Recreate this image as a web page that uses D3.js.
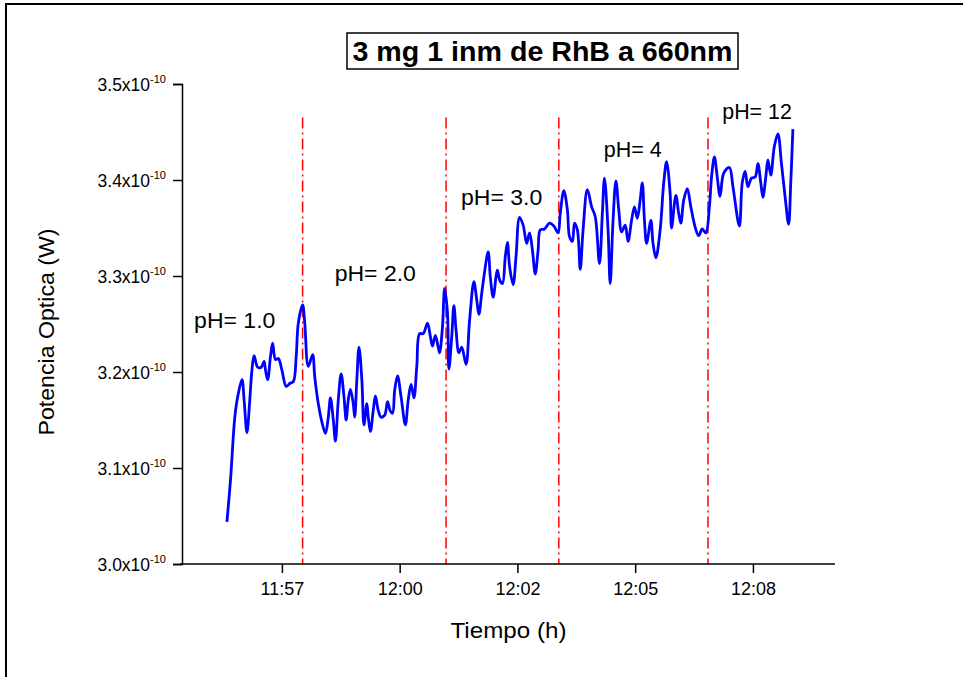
<!DOCTYPE html>
<html>
<head>
<meta charset="utf-8">
<script src="https://cdn.jsdelivr.net/npm/d3@7"></script>
<style>
  body { margin: 0; background: #fff; }
  svg { display: block; font-family: Arial, "Liberation Sans", sans-serif; }
</style>
</head>
<body>
<svg id="chart" width="963" height="677"></svg>
<script>
// seconds after 11:55:00
const seconds = [63,68,74,78,84,87,91,95,98,101,106,111,115,117,120,124,127,131,135,140,
  146,151,156,160,163,169,172,177,183,186,191,196,201,205,208,212,215,219,223,227,
  230,233,236,240,242,245,248,252,255,259,261,264,268,271,275,279,284,288,292,295,
  298,302,307,313,317,321,325,329,333,338,344,348,351,355,359,361,365,368,372,374,
  378,381,384,388,392,398,403,409,413,416,420,423,429,432,436,440,442,445,449,453,
  456,459,464,468,473,478,483,487,491,495,499,502,508,515,521,527,530,535,540,543,
  547,550,554,558,562,568,574,579,585,589,592,597,600,604,608,612,616,621,625,630,
  634,638,642,645,648,651,657,660,664,670,675,679,684,686,692,696,699,703,708,713,
  719,724,729,734,739,742,746,750,754,759,767,772,781,785,789,793,798,803,807,811,
  814,818,821,825,830,835,840,845,850,853,856];

// potencia optica, x1e-10 W
const power = [3.044,3.088,3.153,3.174,3.192,3.171,3.137,3.171,3.202,3.217,3.205,3.205,3.211,3.202,3.192,3.216,3.230,3.213,3.214,3.202,
  3.185,3.188,3.190,3.216,3.251,3.270,3.251,3.206,3.218,3.195,3.167,3.148,3.136,3.153,3.173,3.150,3.128,3.171,3.198,3.174,
  3.150,3.171,3.182,3.167,3.153,3.192,3.226,3.192,3.145,3.167,3.153,3.138,3.160,3.175,3.160,3.153,3.155,3.169,3.159,3.157,
  3.181,3.196,3.174,3.145,3.171,3.187,3.173,3.206,3.240,3.240,3.251,3.237,3.227,3.238,3.226,3.220,3.247,3.287,3.261,3.203,
  3.237,3.269,3.244,3.220,3.226,3.208,3.254,3.294,3.275,3.260,3.282,3.299,3.325,3.299,3.278,3.299,3.306,3.296,3.292,3.320,
  3.335,3.310,3.291,3.320,3.361,3.353,3.334,3.345,3.327,3.302,3.327,3.348,3.349,3.355,3.352,3.345,3.365,3.389,3.369,3.341,
  3.336,3.355,3.348,3.307,3.348,3.390,3.372,3.362,3.313,3.365,3.402,3.348,3.292,3.358,3.399,3.369,3.346,3.353,3.336,3.358,
  3.372,3.360,3.379,3.397,3.358,3.334,3.358,3.334,3.319,3.348,3.397,3.419,3.386,3.350,3.384,3.365,3.355,3.379,3.391,3.372,
  3.351,3.342,3.349,3.345,3.372,3.403,3.424,3.403,3.383,3.407,3.413,3.393,3.352,3.397,3.409,3.393,3.402,3.403,3.417,3.397,
  3.382,3.403,3.421,3.405,3.435,3.448,3.417,3.383,3.354,3.397,3.453];

// cambios de pH (segundos) y etiquetas
const phChangeSec = [169, 370, 528, 737];
const phLabels = ["pH= 1.0", "pH= 2.0", "pH= 3.0", "pH= 4", "pH= 12"];
const phLabelSec = [17, 214, 391, 591, 757];
const phLabelVal = [3.246, 3.295, 3.374, 3.424, 3.464];

const xTickTimes = ["11:57:20", "12:00:05", "12:02:50", "12:05:35", "12:08:20"];
const yTicks = [3.0, 3.1, 3.2, 3.3, 3.4, 3.5];

const svg = d3.select('#chart');
const t0 = new Date(2000, 0, 1, 11, 55, 0);
const toDate = (s) => new Date(t0.getTime() + s * 1000);
const parseT = (str) => {
  const [h, m, s] = str.split(':').map(Number);
  return new Date(2000, 0, 1, h, m, s);
};

const mLeft = 182, mRight = 835, mTop = 84, mBottom = 564;

const x = d3.scaleTime().domain([t0, toDate(915)]).range([mLeft, mRight]);
const y = d3.scaleLinear().domain([3.0, 3.5]).range([mBottom, mTop]);

svg.append('rect').attr('width', 963).attr('height', 677).attr('fill', '#fff');

// marco exterior
svg.append('rect')
  .attr('x', 6).attr('y', 4)
  .attr('width', 1000).attr('height', 1000)
  .attr('fill', 'none').attr('stroke', '#000').attr('stroke-width', 2);

// lineas de cambio de pH
svg.append('g')
  .selectAll('line')
  .data(phChangeSec)
  .join('line')
  .attr('x1', (d) => x(toDate(d))).attr('x2', (d) => x(toDate(d)))
  .attr('y1', y(3.465)).attr('y2', y(3.0))
  .attr('stroke', '#ff0000')
  .attr('stroke-width', 1.5)
  .attr('stroke-dasharray', '11,4,2,4');

// curva
const data = seconds.map((s, i) => ({ t: toDate(s), v: power[i] }));
svg.append('path')
  .datum(data)
  .attr('fill', 'none')
  .attr('stroke', '#0000ff')
  .attr('stroke-width', 2.8)
  .attr('stroke-linejoin', 'round')
  .attr('d', d3.line().x((d) => x(d.t)).y((d) => y(d.v)).curve(d3.curveCatmullRom.alpha(0.5)));

// eje x
const majors = xTickTimes.map(parseT);
const step = majors[1] - majors[0];
const minors = [new Date(majors[0] - step / 2)].concat(majors.map((d) => new Date(+d + step / 2)));

const xAxis = svg.append('g').attr('transform', `translate(0,${mBottom})`);
xAxis.call(d3.axisBottom(x).tickValues(minors).tickSize(5).tickFormat(''));
xAxis.call(d3.axisBottom(x).tickValues(majors).tickSize(9).tickPadding(9).tickFormat(d3.timeFormat('%H:%M')));
xAxis.selectAll('.domain').attr('d', `M${mLeft - 2},0H${mRight}`);
xAxis.selectAll('path, line').attr('stroke', '#000').attr('stroke-width', 1.5);
xAxis.selectAll('text').attr('font-size', 18).attr('fill', '#000').attr('font-family', 'Arial, "Liberation Sans", sans-serif');

// eje y
const yMinors = yTicks.slice(0, -1).map((d) => d + 0.05);
const yAxis = svg.append('g').attr('transform', `translate(${mLeft},0)`);
yAxis.call(d3.axisLeft(y).tickValues(yMinors).tickSize(4).tickFormat(''));
yAxis.call(d3.axisLeft(y).tickValues(yTicks).tickSize(9).tickFormat(''));
yAxis.selectAll('path, line').attr('stroke', '#000').attr('stroke-width', 1.5);

const yLab = svg.append('g')
  .selectAll('text')
  .data(yTicks)
  .join('text')
  .attr('x', 166)
  .attr('y', (d) => y(d) + 7)
  .attr('text-anchor', 'end')
  .attr('font-size', 17.5);
yLab.append('tspan').text((d) => d.toFixed(1) + 'x10');
yLab.append('tspan').attr('font-size', 11).attr('dy', -8).text('-10');

// titulos de ejes
svg.append('text')
  .attr('x', (mLeft + mRight) / 2).attr('y', 638)
  .attr('text-anchor', 'middle')
  .attr('font-size', 22)
  .attr('textLength', 116)
  .attr('lengthAdjust', 'spacingAndGlyphs')
  .text('Tiempo (h)');

svg.append('text')
  .attr('transform', `translate(54,${(mTop + mBottom) / 2 + 8}) rotate(-90)`)
  .attr('text-anchor', 'middle')
  .attr('font-size', 22)
  .attr('textLength', 207)
  .attr('lengthAdjust', 'spacingAndGlyphs')
  .text('Potencia Optica (W)');

// etiquetas de pH
svg.append('g')
  .selectAll('text')
  .data(phLabels)
  .join('text')
  .attr('x', (d, i) => x(toDate(phLabelSec[i])))
  .attr('y', (d, i) => y(phLabelVal[i]))
  .attr('font-size', 22)
  .attr('textLength', (d) => d.length * 11.6)
  .attr('lengthAdjust', 'spacingAndGlyphs')
  .text((d) => d);

// titulo
const title = svg.append('g');
title.append('rect')
  .attr('x', 347).attr('y', 33).attr('width', 391).attr('height', 36)
  .attr('fill', '#fff').attr('stroke', '#000').attr('stroke-width', 1.5);
title.append('text')
  .attr('x', 542.5).attr('y', 61)
  .attr('text-anchor', 'middle')
  .attr('font-size', 27).attr('font-weight', 'bold')
  .attr('textLength', 380)
  .attr('lengthAdjust', 'spacingAndGlyphs')
  .text('3 mg 1 inm de RhB a 660nm');
</script>
</body>
</html>
